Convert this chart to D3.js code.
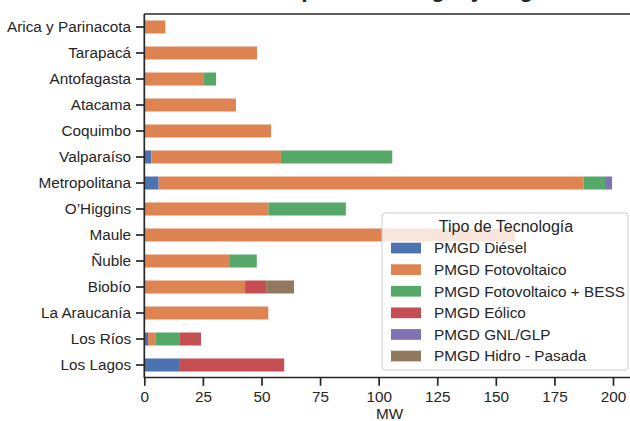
<!DOCTYPE html>
<html>
<head>
<meta charset="utf-8">
<script src="https://cdn.jsdelivr.net/npm/d3@7"></script>
<style>
  html, body { margin: 0; padding: 0; background: #fff; }
  svg { display: block; font-family: "Liberation Sans", Arial, sans-serif; }
</style>
</head>
<body>
<svg id="chart" width="630" height="421"></svg>
<script>
const title = "Potencia Instalada por Tecnología y Región";
const regions = ["Arica y Parinacota", "Tarapacá", "Antofagasta", "Atacama", "Coquimbo",
  "Valparaíso", "Metropolitana", "O’Higgins", "Maule", "Ñuble", "Biobío",
  "La Araucanía", "Los Ríos", "Los Lagos"];
const technologies = ["PMGD Diésel", "PMGD Fotovoltaico", "PMGD Fotovoltaico + BESS",
  "PMGD Eólico", "PMGD GNL/GLP", "PMGD Hidro - Pasada"];
const colors = ["#4C72B0", "#DD8452", "#55A868", "#C44E52", "#8172B3", "#937860"];
// values per technology, in region order (MW)
const diesel     = [0, 0, 0, 0, 0, 3.0, 6.1, 0, 0, 0, 0, 0, 1.6, 15.2];
const fotovolt   = [9.0, 48.1, 25.5, 39.1, 54.1, 55.3, 181.4, 53.0, 158.2, 36.2, 43.0, 52.9, 3.1, 0];
const fvBess     = [0, 0, 5.1, 0, 0, 47.5, 9.1, 33.0, 0, 11.8, 0, 0, 10.5, 0];
const eolico     = [0, 0, 0, 0, 0, 0, 0, 0, 0, 0, 9.0, 0, 9.0, 44.5];
const gnlGlp     = [0, 0, 0, 0, 0, 0, 3.0, 0, 0, 0, 0, 0, 0, 0];
const hidro      = [0, 0, 0, 0, 0, 0, 0, 0, 0, 0, 11.9, 0, 0, 0];
const seriesValues = [diesel, fotovolt, fvBess, eolico, gnlGlp, hidro];
const xTicks = [0, 25, 50, 75, 100, 125, 150, 175, 200];
const xLabel = "MW";
const legendTitle = "Tipo de Tecnología";

const svg = d3.select("#chart");
const ink = "#262626";

const plotLeft = 144.3, plotTop = 14, plotBottom = 378;
const rows = regions.map((r, i) => {
  const o = { region: r };
  technologies.forEach((t, j) => o[t] = seriesValues[j][i]);
  return o;
});
const stacked = d3.stack().keys(technologies)(rows);
const maxTotal = d3.max(rows, r => d3.sum(technologies, t => r[t]));

const x = d3.scaleLinear().domain([0, maxTotal * 1.05])
  .range([plotLeft, plotLeft + maxTotal * 1.05 * 2.3435]);
const y = d3.scaleBand().domain(regions).range([plotTop, plotBottom])
  .paddingInner(0.5).paddingOuter(0.25);

// bars
svg.append("g").selectAll("g").data(stacked).join("g")
  .attr("fill", (d, i) => colors[i])
  .selectAll("rect").data(d => d.filter(s => s[1] - s[0] > 0)).join("rect")
  .attr("x", d => x(d[0]))
  .attr("width", d => x(d[1]) - x(d[0]))
  .attr("y", d => y(d.data.region))
  .attr("height", y.bandwidth());

// axes
const xAxis = svg.append("g").attr("transform", `translate(0,${plotBottom - 0.5})`)
  .call(d3.axisBottom(x).tickValues(xTicks).tickSize(8.3).tickPadding(4.9).tickFormat(d3.format("d")));
const yAxis = svg.append("g").attr("transform", `translate(${plotLeft},0)`)
  .call(d3.axisLeft(y).tickSize(8.3).tickPadding(4.9));
[xAxis, yAxis].forEach(a => {
  a.select(".domain").attr("stroke", ink).attr("stroke-width", 1.7);
  a.selectAll(".tick line").attr("stroke", ink).attr("stroke-width", 1.7);
  a.selectAll(".tick text").attr("fill", ink).style("font-size", "15.3px")
    .style("font-family", "'Liberation Sans', Arial, sans-serif");
});
xAxis.select(".domain").attr("d", `M${plotLeft},0H640`);
yAxis.select(".domain").attr("d", `M0,${plotTop}V${plotBottom}`);
// top spine
svg.append("line").attr("x1", plotLeft).attr("x2", 640).attr("y1", plotTop).attr("y2", plotTop)
  .attr("stroke", ink).attr("stroke-width", 1.7);

// x label
svg.append("text").attr("x", (plotLeft + 635) / 2).attr("y", 419).attr("text-anchor", "middle")
  .attr("fill", ink).style("font-size", "15.3px").text(xLabel);

// title (mostly cut off above the view)
svg.append("text").attr("x", 93).attr("y", -3.5)
  .attr("fill", ink).style("font-size", "23px").style("font-weight", "bold").text(title);

// legend
const lg = svg.append("g");
lg.append("rect").attr("x", 382).attr("y", 213).attr("width", 246).attr("height", 157)
  .attr("rx", 3).attr("fill", "#fff").attr("fill-opacity", 0.8)
  .attr("stroke", "#cccccc").attr("stroke-width", 1);
lg.append("text").attr("x", 506).attr("y", 232).attr("text-anchor", "middle")
  .attr("fill", ink).style("font-size", "16px").text(legendTitle);
technologies.forEach((t, i) => {
  const cy = 248 + i * 21.6;
  lg.append("rect").attr("x", 391).attr("y", cy - 5.3).attr("width", 30).attr("height", 10.7)
    .attr("fill", colors[i]);
  lg.append("text").attr("x", 434).attr("y", cy + 5.3)
    .attr("fill", ink).style("font-size", "15.3px").text(t);
});
</script>
</body>
</html>
